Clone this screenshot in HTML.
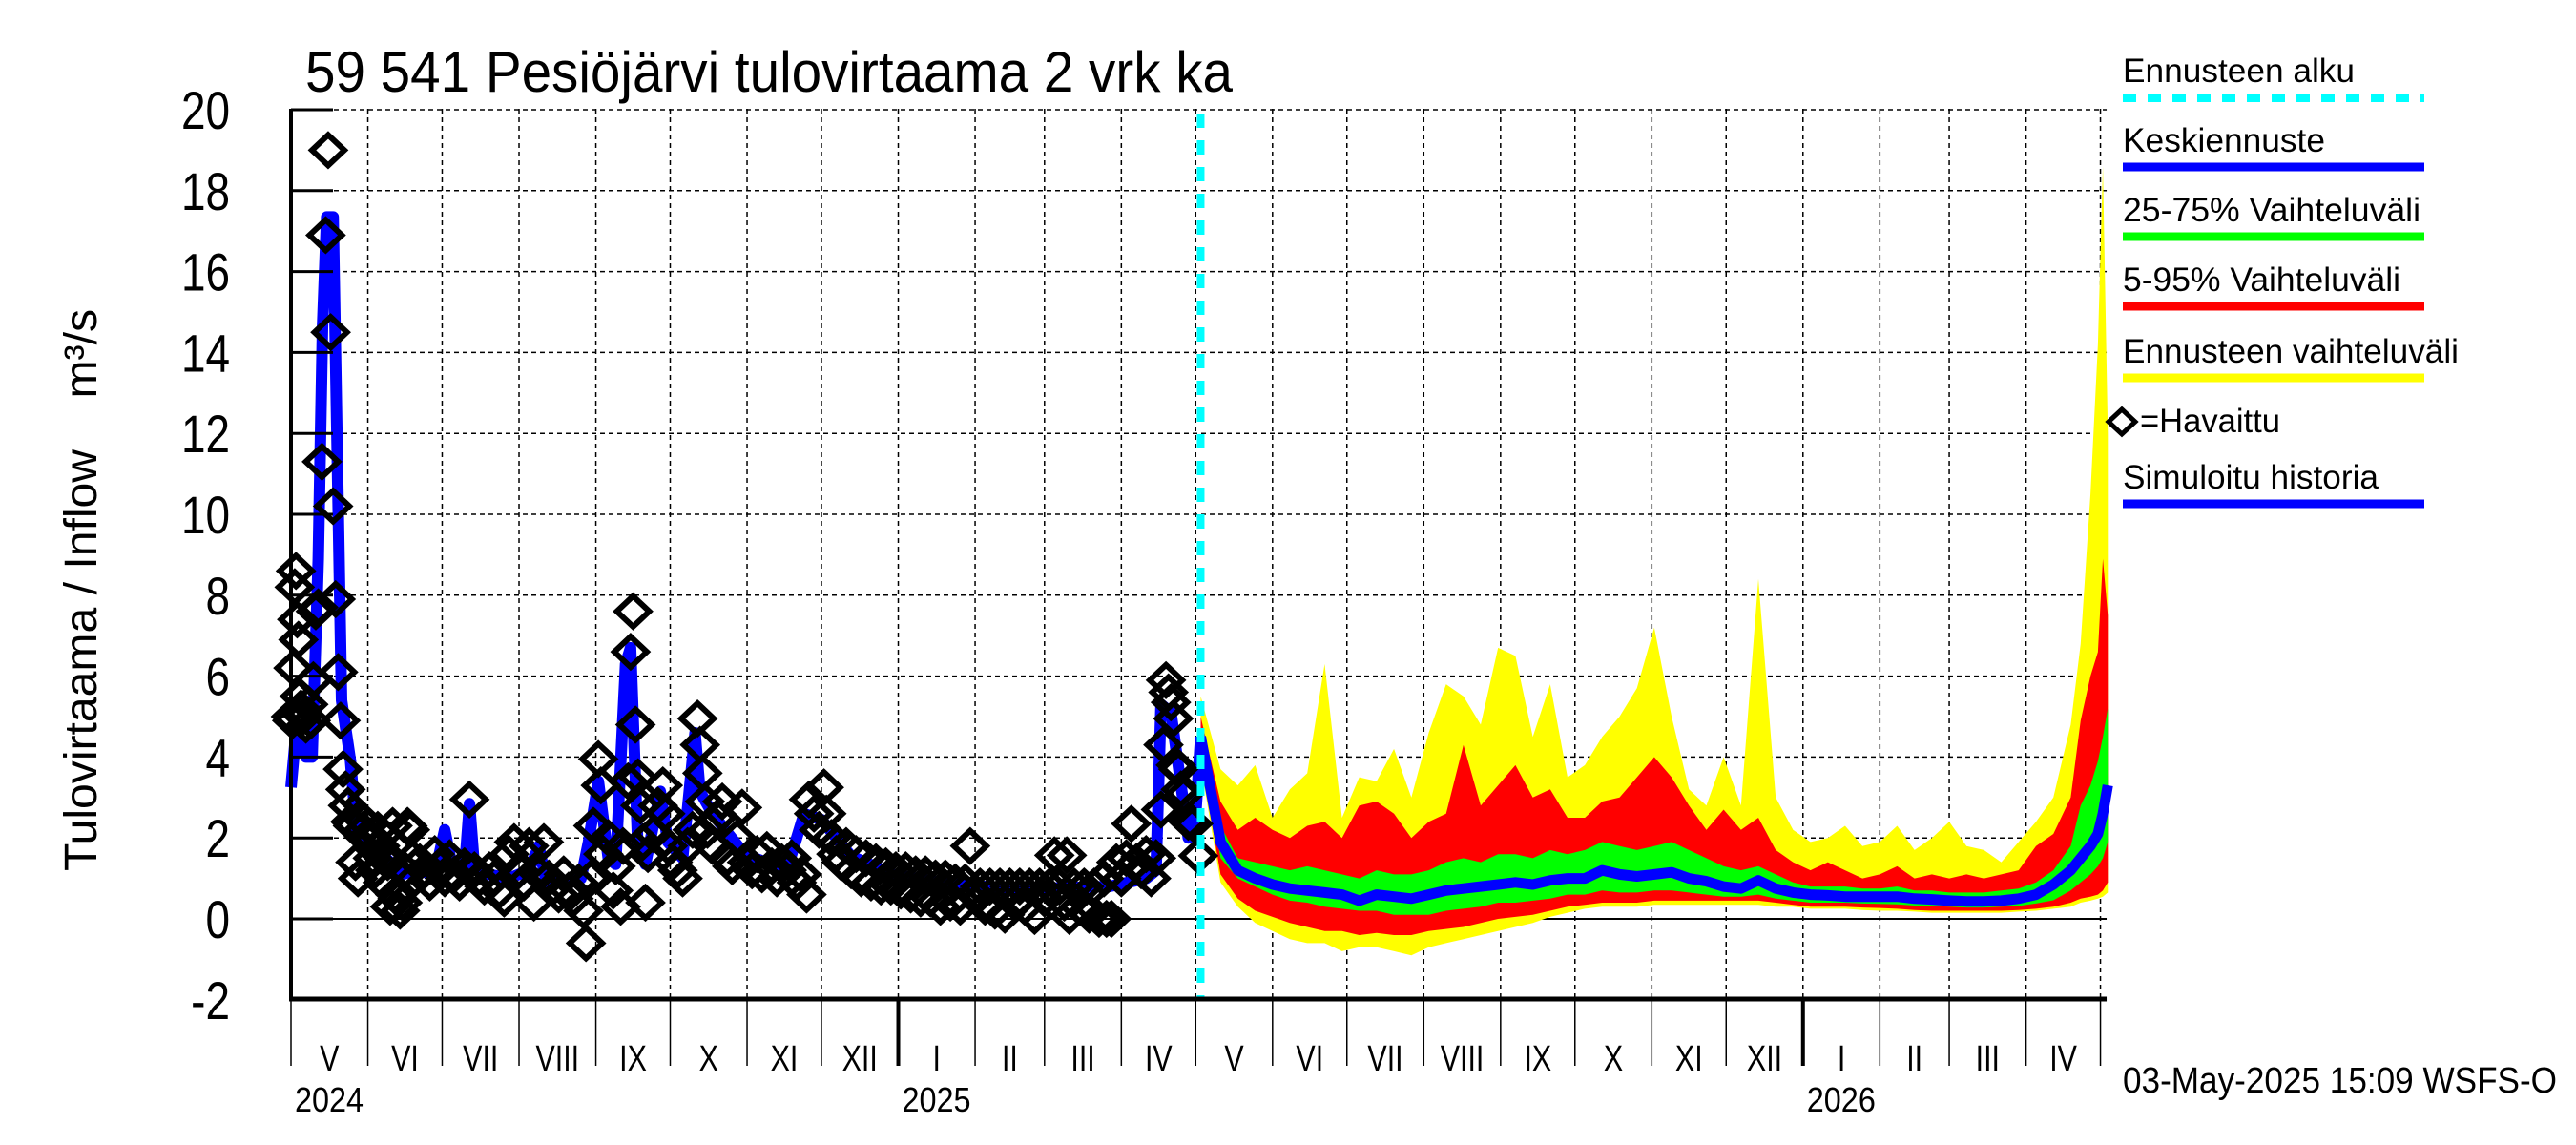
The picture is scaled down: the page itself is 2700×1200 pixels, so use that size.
<!DOCTYPE html>
<html><head><meta charset="utf-8"><style>
html,body{margin:0;padding:0;background:#fff;}
svg{display:block;font-family:"Liberation Sans",sans-serif;}
</style></head><body>
<svg id="chart" width="2700" height="1200" viewBox="0 0 2700 1200" xmlns="http://www.w3.org/2000/svg">
<rect x="0" y="0" width="2700" height="1200" fill="#fff"/>
<g id="grid"></g>
<g id="bands"></g>
<g id="lines"></g>
<g id="obs"></g>
<g id="axes"></g>
<text x="320" y="96" font-size="60" textLength="972" lengthAdjust="spacingAndGlyphs">59 541 Pesiöjärvi tulovirtaama 2 vrk ka</text>
<text transform="translate(101,913) rotate(-90)" font-size="48" textLength="589" lengthAdjust="spacingAndGlyphs" xml:space="preserve">Tulovirtaama / Inflow&#160;&#160;&#160;&#160;m³/s</text>
<text x="2225" y="1145" font-size="38" textLength="455" lengthAdjust="spacingAndGlyphs">03-May-2025 15:09 WSFS-O</text>
<g>
<text x="2225" y="86" font-size="35" textLength="243" lengthAdjust="spacingAndGlyphs">Ennusteen alku</text>
<line x1="2225" y1="103" x2="2541" y2="103" stroke="#00ffff" stroke-width="8" stroke-dasharray="14,12"/>
<text x="2225" y="159" font-size="35" textLength="212" lengthAdjust="spacingAndGlyphs">Keskiennuste</text>
<line x1="2225" y1="175" x2="2541" y2="175" stroke="#0000ff" stroke-width="9"/>
<text x="2225" y="232" font-size="35" textLength="312" lengthAdjust="spacingAndGlyphs">25-75% Vaihteluväli</text>
<line x1="2225" y1="248" x2="2541" y2="248" stroke="#00ff00" stroke-width="9"/>
<text x="2225" y="305" font-size="35" textLength="291" lengthAdjust="spacingAndGlyphs">5-95% Vaihteluväli</text>
<line x1="2225" y1="321" x2="2541" y2="321" stroke="#ff0000" stroke-width="9"/>
<text x="2225" y="380" font-size="35" textLength="352" lengthAdjust="spacingAndGlyphs">Ennusteen vaihteluväli</text>
<line x1="2225" y1="396" x2="2541" y2="396" stroke="#ffff00" stroke-width="9"/>
<path d="M2224 429 L2238 442 L2224 455 L2210 442 Z" fill="none" stroke="#000" stroke-width="5"/>
<text x="2243" y="453" font-size="35" textLength="147" lengthAdjust="spacingAndGlyphs">=Havaittu</text>
<text x="2225" y="512" font-size="35" textLength="268" lengthAdjust="spacingAndGlyphs">Simuloitu historia</text>
<line x1="2225" y1="528" x2="2541" y2="528" stroke="#0000ff" stroke-width="9"/>
</g>
</svg>
<script>
// ---- data ----
const yTicks = [-2,0,2,4,6,8,10,12,14,16,18,20];
const monthNames = ['V','VI','VII','VIII','IX','X','XI','XII','I','II','III','IV','V','VI','VII','VIII','IX','X','XI','XII','I','II','III','IV'];
const yearLabels = ['2024','2025','2026'];
const simDays = [0,2,5,6,8.5,11,12.7,14.4,17,18.7,20.4,24,26.5,33,40,45,50,58,62,65,70,72,74,80,88,96,100,103,110,117,120,124,128,131,135,137,140,143,149,152,158,163,165,170,183,200,207,214,226,243,262,280,300,330,345,349,351,355,362,365,367];
const simVals = [3.25,4.6,4.2,4.0,4.0,8.9,14.6,17.35,17.35,11.3,5.4,3.9,2.1,1.8,1.4,1.1,1.2,1.1,2.2,1.3,1.2,2.85,1.25,1.1,1.0,1.2,1.8,0.9,0.9,1.0,1.9,3.4,1.5,1.35,6.3,6.7,1.7,1.35,3.15,1.9,1.5,4.6,3.15,2.6,1.6,1.2,2.6,2.45,1.55,1.1,0.9,0.8,0.75,0.8,1.0,1.2,5.3,5.1,2.0,2.6,4.5];
const obsDays = [0,0.5,1,1.5,2,2.5,3,3.5,4,5,6,7,8,9,10,11,12.5,14,15,16,17,18,19,20,21,22,23,24,25,26,27,28,29,30,31,32,33,34,35,36,37,38,39,40,41,42,43,44,45,46,47,48,49,50,52,54,56,58,60,62,64,66,68,70,72,74,76,78,80,82,84,86,88,90,92,94,96,98,100,102,104,106,108,110,112,114,116,118,119,121,122,124,125,126,128,130,131,133,134,136,137,138,139,140,141,142,143,144,146,148,150,151,152,154,156,158,160,162,164,165,166,167,168,170,172,174,176,178,180,182,184,186,188,190,192,194,196,198,200,202,204,206,208,209,211,213,215,216,218,220,222,224,226,228,230,232,234,236,238,240,242,244,246,248,250,252,254,256,258,260,262,264,266,268,270,272,274,276,278,280,282,284,286,288,290,292,294,296,298,300,302,304,306,308,310,312,313,314,316,318,320,322,324,326,328,329,331,333,335,337,339,341,343,345,347,349,351,352,353,354,355,356,357,358,359,360,362,364,366];
const obsVals = [5.0,4.9,6.2,8.2,8.6,7.4,6.9,5.5,5.2,5.0,4.8,5.3,4.9,5.9,7.6,7.7,11.3,16.9,19.0,14.5,10.2,7.9,6.1,4.9,3.7,3.2,2.8,2.4,2.3,1.4,1.0,2.5,2.2,2.0,2.3,1.9,1.5,1.2,2.2,1.8,0.9,1.6,1.4,0.3,2.3,0.6,0.5,0.2,0.4,1.2,2.3,2.2,1.5,1.0,1.4,1.2,0.9,1.6,1.3,1.0,1.5,1.1,0.9,1.3,2.95,1.2,1.0,0.8,1.2,1.0,0.7,0.5,1.6,1.9,1.2,0.9,1.8,0.4,1.1,1.9,1.0,0.8,0.6,1.1,0.7,0.5,0.9,0.2,-0.6,1.0,2.3,3.95,3.3,1.6,2.0,0.7,1.3,0.3,1.8,3.4,6.6,7.6,4.8,3.5,2.8,1.9,0.4,1.6,2.1,2.8,3.3,2.6,1.8,1.4,1.2,1.0,1.8,2.2,4.95,4.3,3.6,2.9,2.2,1.8,2.5,2.9,1.5,1.3,2.0,2.75,1.4,1.2,1.6,1.1,1.7,1.3,1.0,1.4,1.2,1.5,0.9,1.1,0.6,2.95,2.6,2.2,3.25,2.6,2.0,1.6,1.4,1.8,1.2,1.6,1.0,1.5,0.9,1.4,0.8,1.3,0.8,1.2,0.7,1.2,0.6,1.1,0.5,1.1,0.5,1.0,0.3,1.0,0.4,0.9,0.3,0.9,1.8,0.6,0.8,0.3,0.8,0.2,0.8,0.1,0.8,0.4,0.8,0.3,0.8,0.07,0.8,0.5,0.8,1.57,0.8,0.4,1.57,0.07,0.8,0.3,0.8,0.1,0.8,0.0,1.0,0.0,0.0,1.4,1.0,1.5,2.35,1.4,1.2,1.6,1.0,1.5,2.7,4.3,5.9,5.6,5.35,4.95,3.8,3.7,3.2,3.06,2.4,2.35,1.56];
const fcDays = [367,375,382,389,396,403,410,417,424,431,438,445,452,459,466,473,480,487,494,501,508,515,522,529,536,543,550,557,564,571,578,585,592,599,606,613,620,627,634,641,648,655,662,669,676,683,690,697,704,711,718,722,726,729,731,733];
const fcMax = [5.5,3.7,3.3,3.8,2.5,3.2,3.6,6.3,2.5,3.5,3.4,4.2,3.0,4.6,5.8,5.5,4.8,6.7,6.5,4.5,5.8,3.5,3.8,4.5,5.0,5.7,7.2,5.0,3.2,2.8,4.0,2.8,8.4,3.0,2.2,1.9,2.0,2.3,1.8,1.9,2.3,1.7,2.0,2.4,1.8,1.7,1.4,1.9,2.4,3.0,4.8,6.8,10.5,14.2,18.6,12.0];
const fcP95 = [5.0,2.9,2.2,2.5,2.2,2.0,2.3,2.4,2.0,2.8,2.9,2.6,2.0,2.4,2.6,4.3,2.8,3.3,3.8,3.0,3.2,2.5,2.5,2.9,3.0,3.5,4.0,3.5,2.8,2.2,2.7,2.2,2.5,1.7,1.4,1.2,1.4,1.2,1.0,1.1,1.3,1.0,1.1,1.0,1.1,1.0,1.1,1.2,1.8,2.1,3.0,4.9,6.0,6.6,8.9,7.5];
const fcP75 = [4.6,2.3,1.5,1.4,1.3,1.2,1.3,1.2,1.1,1.0,1.2,1.1,1.1,1.2,1.4,1.5,1.4,1.6,1.6,1.5,1.7,1.6,1.7,1.9,1.8,1.7,1.8,1.9,1.7,1.5,1.3,1.2,1.3,1.1,0.9,0.8,0.8,0.8,0.75,0.75,0.8,0.7,0.7,0.65,0.65,0.65,0.7,0.75,0.9,1.2,1.8,2.8,3.3,3.9,4.5,5.2];
const fcMed = [4.5,1.9,1.2,1.0,0.85,0.75,0.7,0.65,0.6,0.45,0.6,0.55,0.5,0.6,0.7,0.75,0.8,0.85,0.9,0.85,0.95,1.0,1.0,1.2,1.1,1.05,1.1,1.15,1.0,0.93,0.8,0.75,0.95,0.75,0.65,0.6,0.58,0.55,0.55,0.55,0.55,0.5,0.48,0.45,0.43,0.43,0.45,0.5,0.6,0.85,1.2,1.5,1.8,2.1,2.6,3.3];
const fcP25 = [4.3,1.5,1.0,0.8,0.6,0.45,0.4,0.3,0.25,0.2,0.2,0.1,0.1,0.1,0.2,0.25,0.3,0.4,0.4,0.45,0.5,0.6,0.6,0.7,0.65,0.65,0.7,0.7,0.65,0.6,0.55,0.55,0.6,0.5,0.45,0.4,0.4,0.4,0.38,0.37,0.36,0.33,0.32,0.3,0.28,0.28,0.3,0.32,0.38,0.46,0.7,0.9,1.1,1.3,1.5,1.9];
const fcP5 = [4.0,1.1,0.5,0.2,0.05,-0.1,-0.2,-0.3,-0.3,-0.4,-0.35,-0.4,-0.4,-0.3,-0.25,-0.2,-0.1,0.0,0.05,0.1,0.2,0.3,0.35,0.4,0.4,0.4,0.45,0.45,0.45,0.45,0.45,0.45,0.45,0.4,0.35,0.3,0.3,0.3,0.28,0.27,0.25,0.22,0.2,0.2,0.2,0.2,0.2,0.22,0.25,0.3,0.4,0.5,0.55,0.6,0.7,0.9];
const fcMin = [3.8,0.9,0.3,-0.1,-0.3,-0.5,-0.6,-0.6,-0.8,-0.7,-0.7,-0.8,-0.9,-0.7,-0.6,-0.5,-0.4,-0.3,-0.2,-0.1,0.05,0.15,0.25,0.3,0.3,0.3,0.35,0.35,0.35,0.35,0.35,0.35,0.35,0.3,0.3,0.25,0.25,0.25,0.22,0.2,0.2,0.18,0.15,0.15,0.15,0.15,0.15,0.18,0.2,0.25,0.3,0.4,0.45,0.5,0.55,0.65];
const forecastStartDay = 367;

// ---- scales ----
const X0 = 305, PXD = 2.598, XMAXD = 732.5, YTOP = 114, YBOT = 1047;
const X = d => X0 + d * PXD;
const Y = v => 963 - v * 42.4;
const NS = 'http://www.w3.org/2000/svg';
function mk(tag, parent, attrs) { const e = document.createElementNS(NS, tag); for (const k in attrs) e.setAttribute(k, attrs[k]); parent.appendChild(e); return e; }
const grid = document.getElementById('grid'), bands = document.getElementById('bands'), lines = document.getElementById('lines'), obs = document.getElementById('obs'), axes = document.getElementById('axes');
const base = Date.UTC(2024, 4, 1);
const dayOf = (y, m) => (Date.UTC(y, m, 1) - base) / 86400000;

yTicks.forEach(t => {
  const y = Y(t);
  if (t !== -2) {
    const g = mk('line', grid, {x1: X0, x2: X(XMAXD), y1: y, y2: y, stroke: '#000', 'stroke-width': t === 0 ? 2 : 1.5, 'stroke-dasharray': t === 0 ? 'none' : '5,4'});
    
    
  }
  const tk = mk('line', axes, {x1: X0, x2: X0 + 44, y1: y, y2: y, stroke: '#000', 'stroke-width': 3});
  
  
  const lb = mk('text', axes, {transform: `translate(241,${y + 20}) scale(0.82,1)`, 'font-size': 56, 'text-anchor': 'end'});
  lb.textContent = t;
  
  
});

for (let i = 0; i <= 24; i++) {
  const yr = 2024 + Math.floor((4 + i) / 12), mo = (4 + i) % 12;
  const d0 = dayOf(yr, mo);
  const d1 = dayOf(2024 + Math.floor((5 + i) / 12), (5 + i) % 12);
  if (i > 0 && d0 < XMAXD) {
    const gl = mk('line', grid, {x1: X(d0), x2: X(d0), y1: YTOP, y2: YBOT, stroke: '#000', 'stroke-width': 1.5, 'stroke-dasharray': '5,4'});
    
    
  }
  if (d0 < XMAXD) {
    const sep = mk('line', axes, {x1: X(d0), x2: X(d0), y1: YBOT, y2: 1117, stroke: '#000', 'stroke-width': mo === 0 ? 4 : 1.5});
    
    
  }
  if (i < 24) {
    const cx = X((d0 + d1) / 2);
    const ml = mk('text', axes, {transform: `translate(${cx},1122) scale(0.8,1)`, 'font-size': 38, 'text-anchor': 'middle'});
    ml.textContent = monthNames[i];
    
    
  }
}
[[0, 2024], [dayOf(2025, 0), 2025], [dayOf(2026, 0), 2026]].forEach((p, k) => {
  const yl = mk('text', axes, {transform: `translate(${X(p[0]) + 4},1165) scale(0.9,1)`, 'font-size': 36});
  yl.textContent = yearLabels[k];
  
  
});

function band(up, lo, color, name) {
  let d = 'M' + fcDays.map((dd, i) => X(dd).toFixed(1) + ' ' + Y(up[i]).toFixed(1)).join(' L');
  for (let i = fcDays.length - 1; i >= 0; i--) d += ' L' + X(fcDays[i]).toFixed(1) + ' ' + Y(lo[i]).toFixed(1);
  const p = mk('path', bands, {d: d + ' Z', fill: color});
  
  
}
band(fcMax, fcMin, '#ffff00', 'band-forecast-range');
band(fcP95, fcP5, '#ff0000', 'band-5-95');
band(fcP75, fcP25, '#00ff00', 'band-25-75');

const med = mk('polyline', lines, {points: fcDays.map((d, i) => X(d).toFixed(1) + ',' + Y(fcMed[i]).toFixed(1)).join(' '), fill: 'none', stroke: '#0000ff', 'stroke-width': 11, 'stroke-linejoin': 'round'});


const sim = mk('polyline', lines, {points: simDays.map((d, i) => X(d).toFixed(1) + ',' + Y(simVals[i]).toFixed(1)).join(' '), fill: 'none', stroke: '#0000ff', 'stroke-width': 12, 'stroke-linejoin': 'round'});



obsDays.forEach((d, i) => {
  const x = X(d), y = Y(obsVals[i]);
  const p = mk('path', obs, {d: `M${x} ${y - 16} L${x + 17} ${y} L${x} ${y + 16} L${x - 17} ${y} Z`, fill: 'none', stroke: '#000', 'stroke-width': 6});
  
  
});

const fl = mk('line', axes, {x1: X(forecastStartDay), x2: X(forecastStartDay), y1: YTOP + 5, y2: YBOT, stroke: '#00ffff', 'stroke-width': 8, 'stroke-dasharray': '15,13'});



const la = mk('line', axes, {x1: X0, x2: X0, y1: YTOP, y2: YBOT + 2, stroke: '#000', 'stroke-width': 4});


const ba = mk('line', axes, {x1: X0 - 2, x2: X(XMAXD), y1: YBOT, y2: YBOT, stroke: '#000', 'stroke-width': 5});


</script>
</body></html>
